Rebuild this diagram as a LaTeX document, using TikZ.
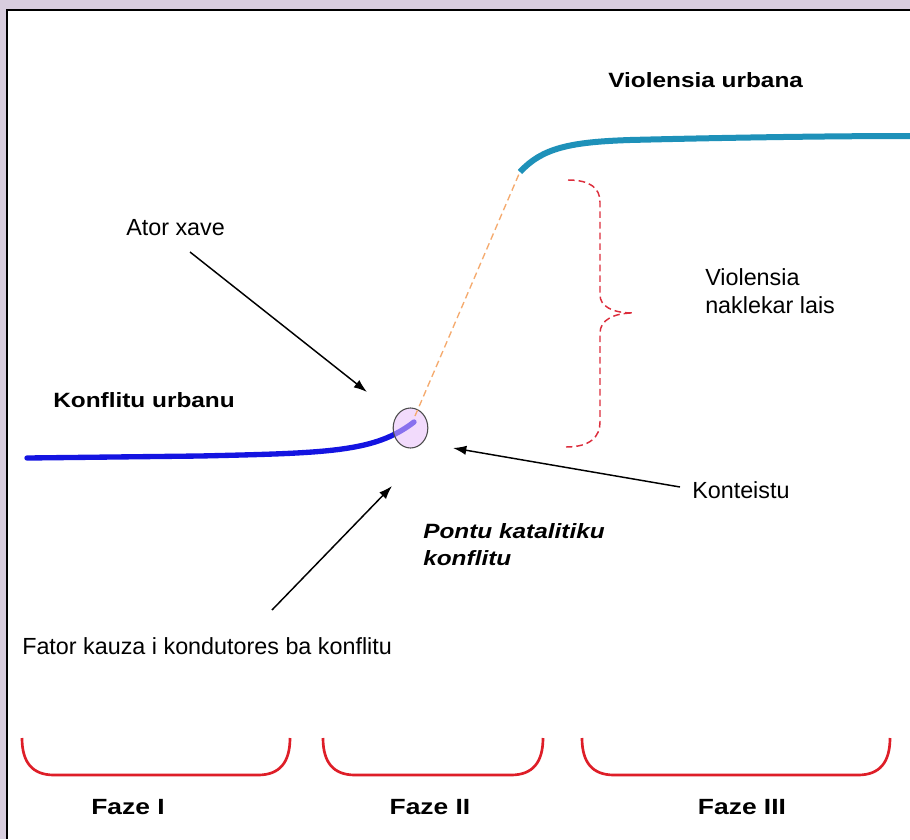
\documentclass[tikz,border=0pt]{standalone}
\usepackage{fontspec}
\setmainfont{Liberation Sans}
\newfontfamily\widebold[FakeStretch=1.18]{Liberation Sans}
\newfontfamily\fazebold[FakeStretch=1.2]{Liberation Sans}
\usetikzlibrary{arrows.meta,shapes.geometric}
\definecolor{bglav}{RGB}{216,205,222}
\definecolor{lineblue}{RGB}{20,20,225}
\definecolor{circfill}{RGB}{232,190,250}
\definecolor{dashorange}{RGB}{245,170,110}
\definecolor{tealline}{RGB}{30,145,185}
\definecolor{bracered}{RGB}{220,45,60}
\definecolor{bracketred}{RGB}{222,30,40}
\tikzset{
  regtext/.style={font=\fontsize{17.5pt}{21pt}\selectfont, inner sep=0pt, anchor=base west},
  boldtext/.style={font=\widebold\bfseries\fontsize{15.5pt}{20pt}\selectfont, inner sep=0pt, anchor=base west},
  italbold/.style={font=\widebold\bfseries\itshape\fontsize{15.5pt}{20pt}\selectfont, inner sep=0pt, anchor=base west},
  fazetext/.style={font=\fazebold\bfseries\fontsize{16.5pt}{20pt}\selectfont, inner sep=0pt, anchor=base},
  pointer/.style={draw=black, line width=1.1pt, -{Latex[length=10pt,width=7pt]}},
  bracketline/.style={draw=bracketred, line width=2pt},
}
\begin{document}
\begin{tikzpicture}[x=0.75pt,y=-0.75pt]
\useasboundingbox (0,0) rectangle (910,839);
\fill[bglav] (0,0) rectangle (910,839);
\fill[white] (7,10) rectangle (910,839);
\draw[line width=1.5pt] (7,839) -- (7,10) -- (910,10);

% blue curve (Konflitu urbanu)
\draw[lineblue, line width=4pt, line cap=round] (27,458) -- (200,456) .. controls (330,453) and (375,452) .. (414,422);
% catalytic point
\node[ellipse, draw=black!70, line width=0.8pt, fill=circfill, fill opacity=0.55, minimum width=26pt, minimum height=30pt, inner sep=0pt] (cp) at (410.5,428) {};
% orange dashed rise
\coordinate (rs) at (415,416);
\coordinate (re) at (519,174);
\draw[dashorange, line width=1pt, dash pattern=on 5pt off 3pt] (rs) -- (re);
% teal curve (Violensia urbana)
\draw[tealline, line width=4.5pt] (520,172) .. controls (542,148) and (570,142) .. (630,140) .. controls (750,137) and (850,136) .. (910,136);

% red dashed brace
\draw[bracered, line width=1.1pt, dash pattern=on 5pt off 3pt]
  (568,180) .. controls (590,180) and (600,188) .. (600,202) -- (600,295)
  .. controls (600,306) and (612,313) .. (633,313)
  .. controls (614,313) and (600,320) .. (600,333) -- (600,422)
  .. controls (600,437) and (590,447) .. (566,447);

% texts
\node[boldtext] (vu) at (608,87) {Violensia urbana};
\node[regtext] (ax) at (126,235) {Ator xave};
\node[regtext] (vn1) at (705,285) {Violensia};
\node[regtext] (vn2) at (705,313) {naklekar lais};
\node[boldtext] (ku) at (53,407) {Konflitu urbanu};
\node[regtext] (kt) at (692,498) {Konteistu};
\node[italbold] (pk1) at (423,538) {Pontu katalitiku};
\node[italbold] (pk2) at (423,565) {konflitu};
\node[regtext] (fk) at (22,654) {Fator kauza i kondutores ba konflitu};

% arrows
\coordinate (axs) at (190,252);
\coordinate (axe) at (367,392);
\draw[pointer] (axs) -- (axe);
\coordinate (fks) at (272,610);
\coordinate (fke) at (392,486);
\draw[pointer] (fks) -- (fke);
\coordinate (kts) at (680,487);
\coordinate (kte) at (453,448);
\draw[pointer] (kts) -- (kte);

% phase brackets
\draw[bracketline] (22,738) .. controls (22,762) and (32,775) .. (54,775) -- (258,775) .. controls (280,775) and (290,762) .. (290,738);
\draw[bracketline] (323,738) .. controls (323,762) and (333,775) .. (355,775) -- (511,775) .. controls (533,775) and (543,762) .. (543,738);
\draw[bracketline] (582,738) .. controls (582,762) and (592,775) .. (614,775) -- (858,775) .. controls (880,775) and (890,762) .. (890,738);

\node[fazetext] (f1) at (128,814) {Faze I};
\node[fazetext] (f2) at (430,814) {Faze II};
\node[fazetext] (f3) at (742,814) {Faze III};
\end{tikzpicture}
\end{document}
